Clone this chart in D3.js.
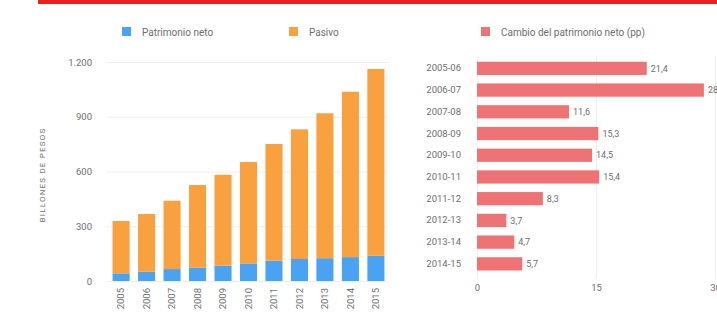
<!DOCTYPE html>
<html>
<head>
<meta charset="utf-8">
<script src="https://cdn.jsdelivr.net/npm/d3@7"></script>
<style>
  body { margin: 0; background: #fff; }
  text { font-family: Roboto, "Open Sans", sans-serif; fill: #6e6e6e; }
  .domain { display: none; }
  .tick line { stroke: #eee; }
</style>
</head>
<body>
<div class="chart"></div>
<script>
// datos
var years = ["2005","2006","2007","2008","2009","2010","2011","2012","2013","2014","2015"];
var patrimonio = [42, 51, 65.5, 73, 84, 96.5, 111.5, 120.5, 125, 131, 138.5];
var pasivo = [287, 316, 374.5, 453, 498, 555.5, 639.5, 710.5, 794, 906, 1023.5];
var periodos = ["2005-06","2006-07","2007-08","2008-09","2009-10","2010-11","2011-12","2012-13","2013-14","2014-15"];
var cambio = [21.4, 28.6, 11.6, 15.3, 14.5, 15.4, 8.3, 3.7, 4.7, 5.7];
var yTicks = [0, 300, 600, 900, 1200];
var xTicks = [0, 15, 30];

var Width = 717, Height = 323;
var es = d3.formatLocale({decimal: ",", thousands: ".", grouping: [3], currency: ["$", ""]});

var svg = d3.select(".chart").append("svg")
  .attr("width", Width)
  .attr("height", Height);

// franja roja superior
svg.append("rect").attr("x", 38).attr("y", 0).attr("width", Width - 38).attr("height", 4).attr("fill", "#e8231f");

// leyenda
var legend = [
  {x: 122, color: "#4aa3f2", label: "Patrimonio neto"},
  {x: 289, color: "#f9a03f", label: "Pasivo"},
  {x: 481, color: "#ef7374", label: "Cambio del patrimonio neto (pp)"}
];
var lg = svg.selectAll(".lg").data(legend).enter().append("g")
  .attr("transform", (d) => "translate(" + d.x + ",27)");
lg.append("rect").attr("width", 9).attr("height", 9).attr("fill", (d) => d.color);
lg.append("text").attr("x", 20).attr("y", 8.5).style("font-size", "10px").text((d) => d.label);

// ---- barras apiladas ----
var xScale = d3.scaleBand().domain(years).range([109, 388]).paddingInner(0.33).paddingOuter(0.14);
var yScale = d3.scaleLinear().domain([0, 1200]).range([281, 62]);

svg.append("g")
  .attr("transform", "translate(107,0)")
  .call(d3.axisLeft(yScale).tickValues(yTicks).tickSize(-281).tickPadding(15).tickFormat(es.format(",")))
  .call((g) => g.selectAll("text").style("font-size", "9.5px"));

svg.selectAll(".pat").data(years).enter().append("rect")
  .attr("x", (d) => xScale(d))
  .attr("width", xScale.bandwidth())
  .attr("y", (d, i) => yScale(patrimonio[i]))
  .attr("height", (d, i) => yScale(0) - yScale(patrimonio[i]))
  .attr("fill", "#4aa3f2");

svg.selectAll(".pas").data(years).enter().append("rect")
  .attr("x", (d) => xScale(d))
  .attr("width", xScale.bandwidth())
  .attr("y", (d, i) => yScale(patrimonio[i] + pasivo[i]))
  .attr("height", (d, i) => yScale(patrimonio[i]) - yScale(patrimonio[i] + pasivo[i]))
  .attr("fill", "#f9a03f");

svg.append("g")
  .attr("transform", "translate(0,284)")
  .call(d3.axisBottom(xScale).tickSize(0).tickPadding(0))
  .selectAll("text")
    .attr("transform", "rotate(-90)")
    .attr("text-anchor", "end")
    .attr("x", -4)
    .attr("y", 0)
    .attr("dy", "0.35em")
    .style("font-size", "9.5px");

svg.append("text")
  .attr("transform", "translate(45,175) rotate(-90)")
  .attr("text-anchor", "middle")
  .style("font-size", "8px")
  .style("letter-spacing", "1.2px")
  .text("BILLONES DE PESOS");

// ---- barras horizontales ----
var xScale2 = d3.scaleLinear().domain([0, 30]).range([477, 715]);
var yScale2 = d3.scaleBand().domain(periodos).range([57.6, 274.6]).paddingInner(0.39).paddingOuter(0.19);

svg.append("g")
  .attr("transform", "translate(0,278)")
  .call(d3.axisBottom(xScale2).tickValues(xTicks).tickSize(-222).tickPadding(6))
  .call((g) => g.selectAll("text").style("font-size", "9.5px"));

svg.selectAll(".cb").data(periodos).enter().append("rect")
  .attr("x", xScale2(0))
  .attr("y", (d) => yScale2(d))
  .attr("height", yScale2.bandwidth())
  .attr("width", (d, i) => xScale2(cambio[i]) - xScale2(0))
  .attr("fill", "#ef7374");

svg.selectAll(".cbl").data(periodos).enter().append("text")
  .attr("x", (d, i) => xScale2(cambio[i]) + 4)
  .attr("y", (d) => yScale2(d) + yScale2.bandwidth() / 2)
  .attr("dy", "0.35em")
  .style("font-size", "9px")
  .text((d, i) => es.format(".1f")(cambio[i]));

svg.append("g")
  .attr("transform", "translate(470,0)")
  .call(d3.axisLeft(yScale2).tickSize(0).tickPadding(9))
  .call((g) => g.selectAll("text").style("font-size", "9.5px"));
</script>
</body>
</html>
